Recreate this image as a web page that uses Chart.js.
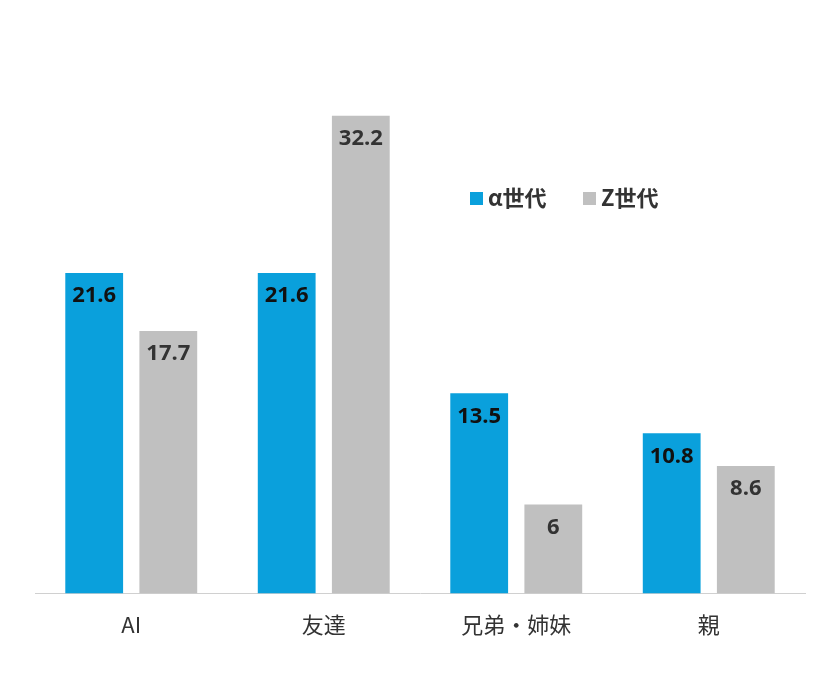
<!DOCTYPE html>
<html><head><meta charset="utf-8">
<script src="https://cdn.jsdelivr.net/npm/chart.js@4"></script>
<style>html,body{margin:0;background:#fff}#w{width:840px;height:676px}</style>
</head><body><div id="w"><canvas id="c"></canvas></div>
<script>
const categories=["AI","友達","兄弟・姉妹","親"];
const alphaGen=[21.6,21.6,13.5,10.8];
const zGen=[17.7,32.2,6,8.6];
const seriesNames=["α世代","Z世代"];
const F='"Noto Sans CJK JP","Open Sans",sans-serif';
const labels={id:'lbl',afterDatasetsDraw(ch){const c=ch.ctx;c.save();c.font='bold 22px "Open Sans",'+F;c.textAlign='center';c.textBaseline='top';
ch.data.datasets.forEach((ds,i)=>{ch.getDatasetMeta(i).data.forEach((b,j)=>{c.fillStyle=i?'#333':'#111';c.fillText(String(ds.data[j]),b.x,b.y+12);});});
// legend
const items=[[seriesNames[0],'#0aa0dc',470],[seriesNames[1],'#c0c0c0',583]];
c.font='bold 22px '+F;c.textAlign='left';c.textBaseline='middle';
items.forEach(([t,col,x])=>{c.fillStyle=col;c.fillRect(x,192,13,13);c.fillStyle='#333';c.fillText(t,x+18,198);});
c.restore();}};
new Chart(document.getElementById('c'),{type:'bar',
data:{labels:categories,datasets:[{data:alphaGen,backgroundColor:'#0aa0dc'},{data:zGen,backgroundColor:'#c0c0c0'}]},
options:{responsive:true,maintainAspectRatio:false,animation:false,
layout:{padding:{left:35,right:35,top:0,bottom:20}},
categoryPercentage:0.77,barPercentage:0.78,
plugins:{legend:{display:false},tooltip:{enabled:false}},
scales:{y:{display:false,min:0,max:40},
x:{grid:{display:false,drawTicks:false},border:{color:'#d0d0d0'},ticks:{color:'#333',padding:18,font:{family:F,size:22}}}}},
plugins:[labels]});
</script></body></html>
